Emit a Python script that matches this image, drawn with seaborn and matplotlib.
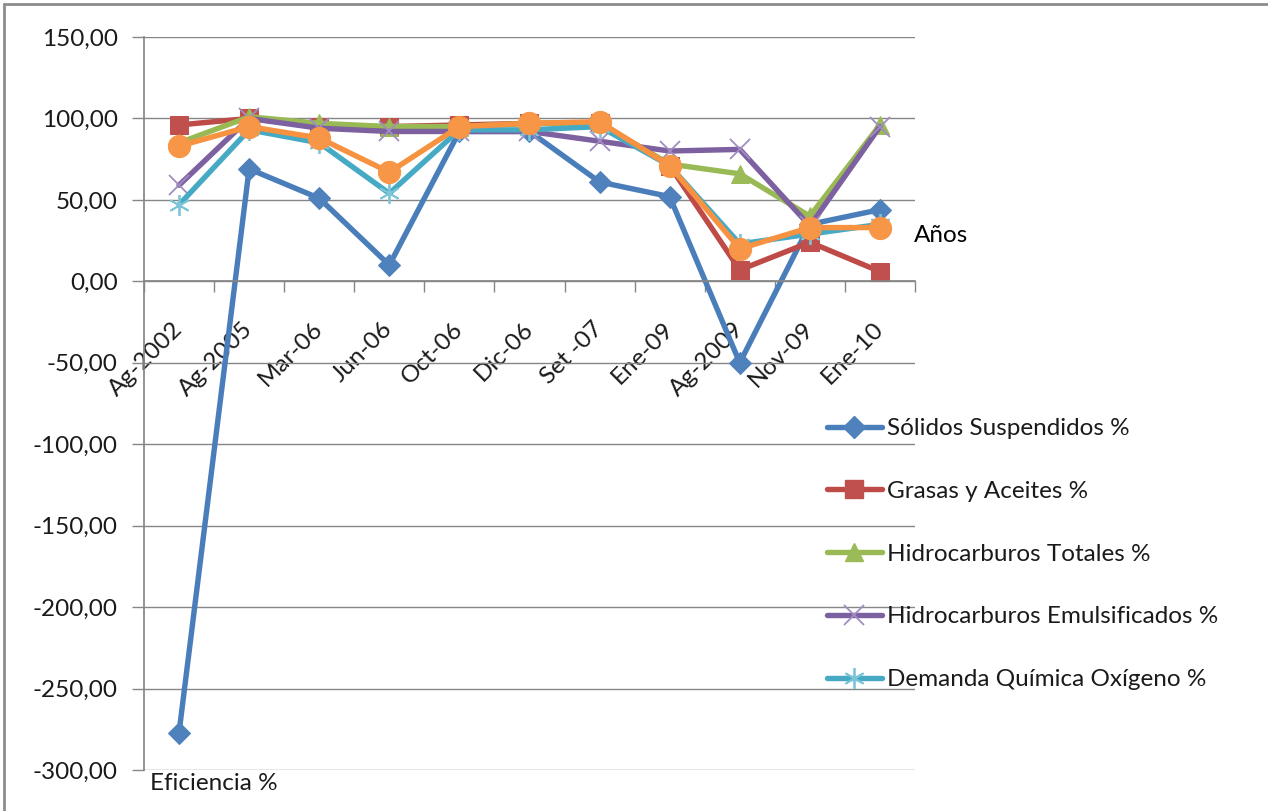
import numpy as np
import pandas as pd
import matplotlib
matplotlib.use("Agg")
import matplotlib.pyplot as plt
import seaborn as sns
from matplotlib.ticker import FuncFormatter, FixedLocator
from matplotlib.lines import Line2D

categories = ["Ag-2002", "Ag-2005", "Mar-06", "Jun-06", "Oct-06", "Dic-06",
              "Set -07", "Ene-09", "Ag-2009", "Nov-09", "Ene-10"]

solidos = [-277, 69, 51, 10, 92, 92, 61, 52, -50, 35, 44]
grasas = [96, 100, 95, 95, 96, 97, 97, 71, 7, 24, 6]
hidro_tot = [85, 101, 97, 95, 95, 97, 97, 72, 66, 40, 96]
hidro_emul = [59, 100, 94, 92, 92, 92, 86, 80, 81, 34, 95]
dqo = [47, 93, 85, 54, 93, 93, 95, 71, 23, 29, 35]
otro = [83, 95, 88, 67, 95, 97, 98, 71, 20, 33, 33]

series_names = ["Sólidos Suspendidos %", "Grasas y Aceites %", "Hidrocarburos Totales %",
                "Hidrocarburos Emulsificados %", "Demanda Química Oxígeno %", ""]
yticks = [-300, -250, -200, -150, -100, -50, 0, 50, 100, 150]

sns.set_theme(style="white")
plt.rcParams["font.family"] = ["Lato", "DejaVu Sans"]

FS = 17.5
fig = plt.figure(figsize=(12.68, 8.11), dpi=100)
W, H = 1268, 811
x0, x1, y0, y1 = 144, 915, 37, 770
ax = fig.add_axes([x0 / W, 1 - y1 / H, (x1 - x0) / W, (y1 - y0) / H])

pos = np.arange(len(categories))
styles = [
    dict(color="#4A7EBB", marker="D", markersize=11.5, mfc="#4F81BD", mec="#4F81BD"),
    dict(color="#BE4B48", marker="s", markersize=13.5, mfc="#C0504D", mec="#C0504D"),
    dict(color="#98B954", marker="^", markersize=13.5, mfc="#9BBB59", mec="#9BBB59"),
    dict(color="#7D60A0", marker="x", markersize=14, mfc="none", mec="#A08CC0", mew=1.3),
    dict(color="#46AAC5", marker=(6, 2, 0), markersize=15, mfc="none", mec="#7CC4D8", mew=1.3),
    dict(color="#F69240", marker="o", markersize=16, mfc="#F79646", mec="#F79646"),
]
data = [solidos, grasas, hidro_tot, hidro_emul, dqo, otro]
for vals, st in zip(data, styles):
    sns.lineplot(x=pos, y=vals, ax=ax, lw=3.9, errorbar=None, legend=False, **st)

ax.set_xlim(-0.5, len(categories) - 0.5)
ax.set_ylim(-300, 150)
ax.set_yticks(yticks)
ax.yaxis.set_major_formatter(FuncFormatter(lambda v, p: f"{v:.2f}".replace(".", ",")))
ax.yaxis.grid(True, color="#868686", lw=1)
ax.xaxis.grid(False)
ax.set_axisbelow(True)

for s in ["top", "right"]:
    ax.spines[s].set_visible(False)
ax.spines["left"].set_color("#868686")
ax.spines["bottom"].set_color("#868686")
ax.spines["bottom"].set_position(("data", 0))

ax.set_xticks(pos)
ax.set_xticklabels(categories, rotation=45, ha="right", va="center", rotation_mode="anchor")
ax.xaxis.set_minor_locator(FixedLocator(np.arange(-0.5, len(categories), 1.0)))
ax.tick_params(axis="x", which="major", length=0, pad=32, labelsize=FS, labelcolor="#1a1a1a")
ax.tick_params(axis="x", which="minor", length=8, width=1, color="#868686", direction="out", bottom=True)
ax.tick_params(axis="y", length=9, width=1, color="#868686", direction="out", left=True,
               pad=10, labelsize=FS, labelcolor="#1a1a1a")
ax.set_xlabel("")
ax.set_ylabel("")

fig.text(914 / W, 1 - 235 / H, "Años", fontsize=FS, ha="left", va="center", color="black")
fig.text(150 / W, 1 - 784 / H, "Eficiencia %", fontsize=FS, ha="left", va="center", color="#1a1a1a")

handles = []
for st in styles[:5]:
    h = Line2D([0], [0], lw=3.9, **{k: v for k, v in st.items()})
    handles.append(h)
fig.legend(handles, series_names[:5], loc="upper left", bbox_to_anchor=(827 / W, 1 - 418 / H),
           frameon=False, fontsize=FS, handlelength=2.25, handletextpad=0.2, labelspacing=1.72,
           borderpad=0, borderaxespad=0, labelcolor="#1a1a1a")

fig.add_artist(Line2D([4 / W, 4 / W], [0, 1 - 4 / H], color="#8c8c8c", lw=2, transform=fig.transFigure))
fig.add_artist(Line2D([4 / W, 1], [1 - 4 / H, 1 - 4 / H], color="#8c8c8c", lw=2, transform=fig.transFigure))

fig.savefig("out.png", dpi=100, facecolor="white")
